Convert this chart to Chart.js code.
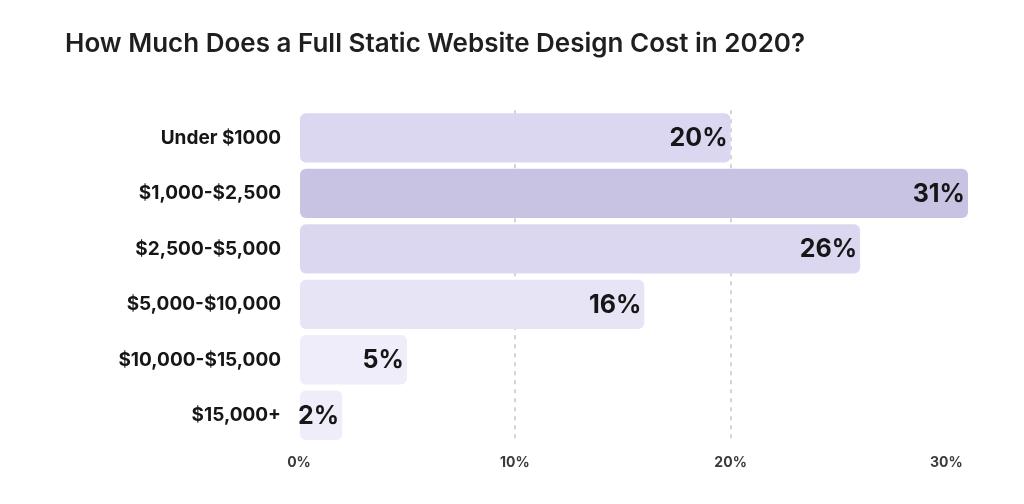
<!DOCTYPE html>
<html lang="en">
  <head>
    <meta charset="UTF-8" />
    <script src="https://cdn.jsdelivr.net/npm/chart.js"></script>
    <title>Website Design Cost</title>
    <style>
      html,
      body {
        margin: 0;
        padding: 0;
        background: #ffffff;
      }
      .container {
        width: 1024px;
        height: 504px;
      }
    </style>
  </head>
  <body>
    <div class="container">
      <canvas id="myChart"></canvas>
    </div>
  </body>
</html>
<script>
  const categories = [
    "Under $1000",
    "$1,000-$2,500",
    "$2,500-$5,000",
    "$5,000-$10,000",
    "$10,000-$15,000",
    "$15,000+",
  ];
  const shares = [20, 31, 26, 16, 5, 2];
  const barColors = ["#dcd7f0", "#c9c3e3", "#dcd7f0", "#e7e4f5", "#efedf9", "#efedf9"];
  const xTicks = [0, 10, 20, 30];

  // percentage label inside the end of each bar
  const barLabels = {
    id: "barLabels",
    afterDatasetsDraw(chart) {
      const ctx = chart.ctx;
      const meta = chart.getDatasetMeta(0);
      ctx.save();
      ctx.font = "700 25px Inter";
      ctx.fillStyle = "#161616";
      ctx.textAlign = "right";
      ctx.textBaseline = "middle";
      meta.data.forEach((bar, i) => {
        ctx.fillText(shares[i] + "%", bar.x - 3, bar.y + 1);
      });
      ctx.restore();
    },
  };

  const ctx = document.getElementById("myChart").getContext("2d");
  const myChart = new Chart(ctx, {
    type: "bar",
    data: {
      labels: categories,
      datasets: [
        {
          data: shares,
          backgroundColor: barColors,
          borderRadius: 6,
          borderSkipped: false,
          categoryPercentage: 1,
          barPercentage: 0.89,
        },
      ],
    },
    options: {
      indexAxis: "y",
      responsive: true,
      maintainAspectRatio: false,
      animation: false,
      layout: {
        padding: { left: 65, right: 56, top: 0, bottom: 20 },
      },
      plugins: {
        legend: { display: false },
        tooltip: { enabled: false },
        title: {
          display: true,
          text: "How Much Does a Full Static Website Design Cost in 2020?",
          align: "start",
          color: "#1f1f1f",
          font: { family: "Inter", size: 26, weight: "600" },
          padding: { top: 29, bottom: 50 },
        },
      },
      scales: {
        x: {
          min: 0,
          max: 31,
          afterBuildTicks: (scale) => {
            scale.ticks = xTicks.map((v) => ({ value: v }));
          },
          afterFit: (scale) => {
            scale.height = 41;
          },
          grid: {
            drawTicks: false,
            lineWidth: 2,
            color: (c) =>
              c.tick && (c.tick.value === 10 || c.tick.value === 20)
                ? "#d2d2dc"
                : "rgba(0,0,0,0)",
          },
          border: { display: false, dash: [4, 5] },
          ticks: {
            padding: 11,
            color: "#3a3a3a",
            font: { family: "Inter", size: 14, weight: "700" },
            callback: (v) => v + "%",
          },
        },
        y: {
          afterFit: (scale) => {
            scale.width = 234;
          },
          grid: { display: false },
          border: { display: false },
          ticks: {
            padding: 10,
            color: "#161616",
            font: { family: "Inter", size: 19, weight: "700" },
          },
        },
      },
    },
    plugins: [barLabels],
  });
</script>
